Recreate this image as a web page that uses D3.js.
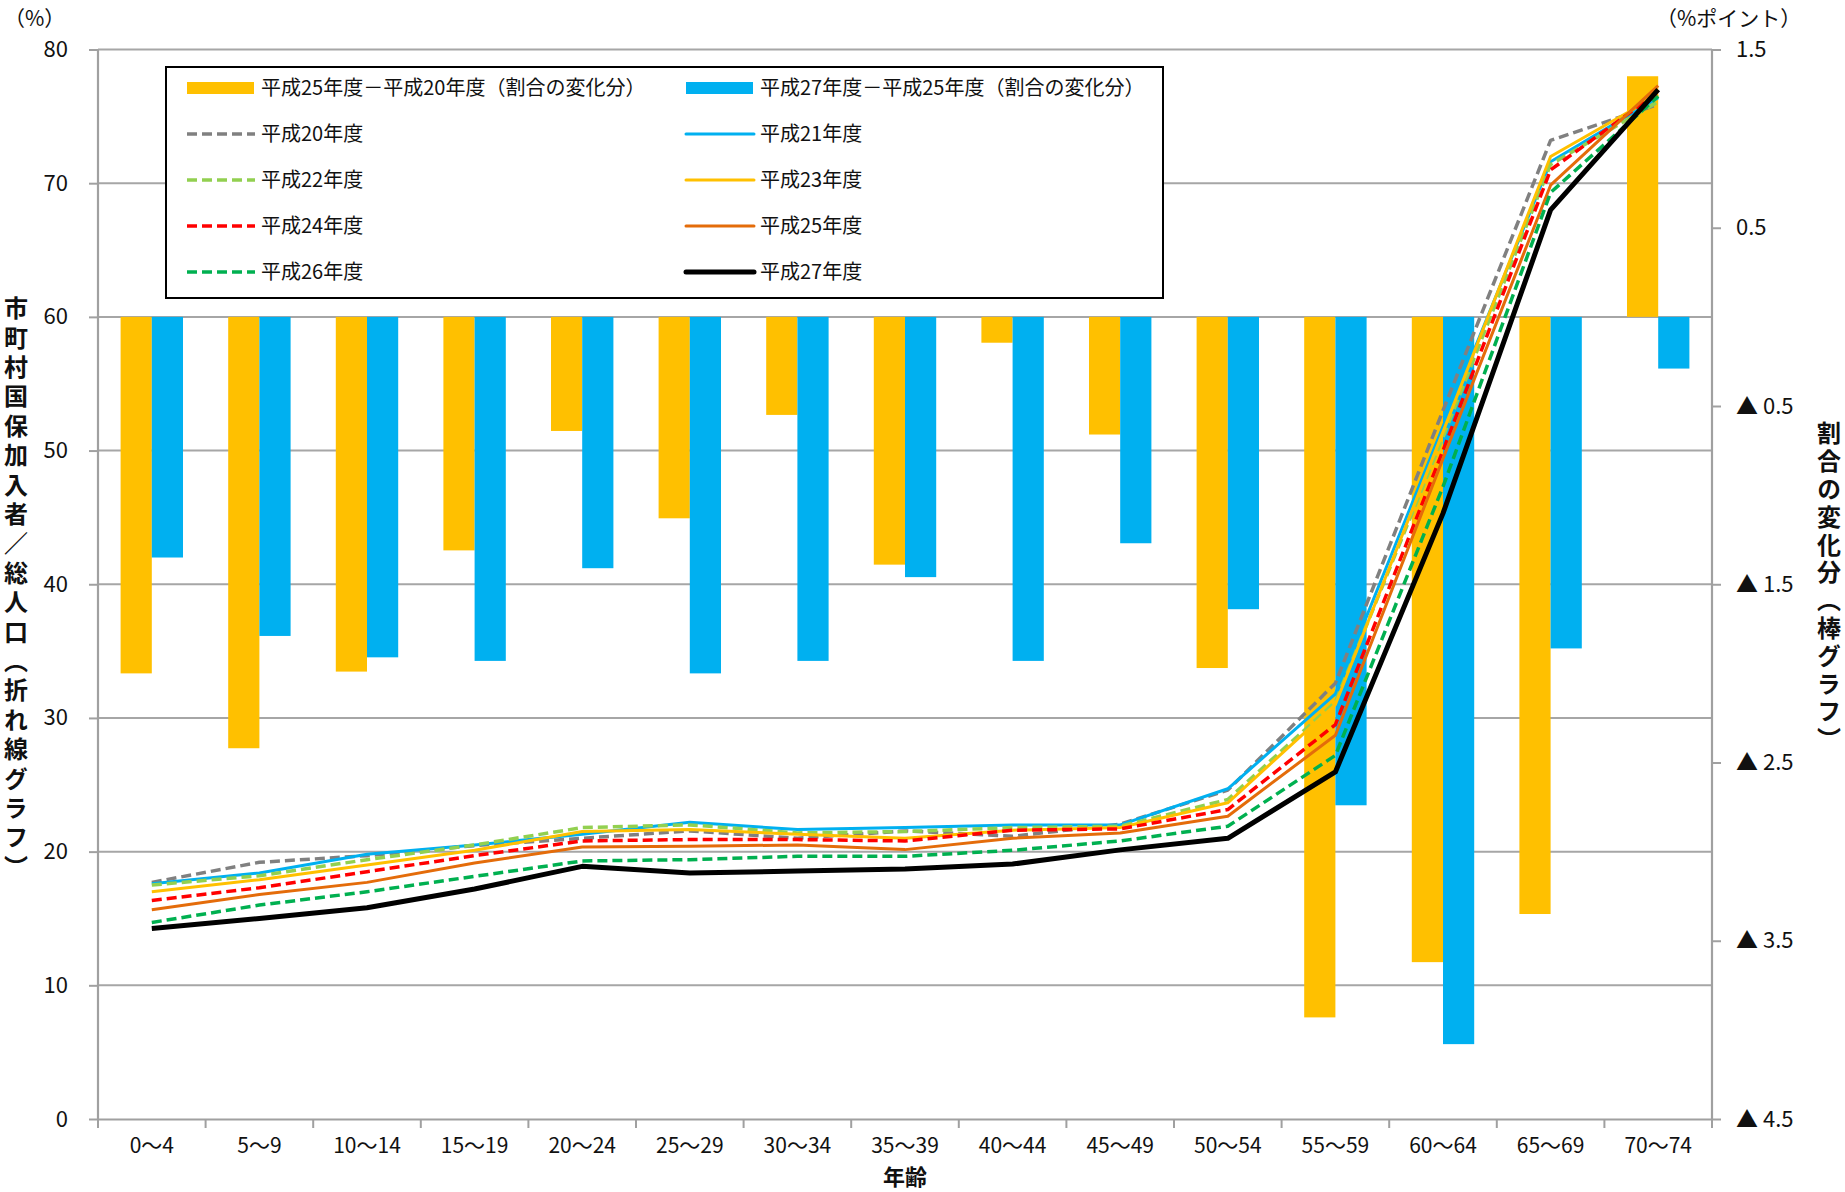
<!DOCTYPE html>
<html>
<head>
<meta charset="utf-8">
<script src="https://cdn.jsdelivr.net/npm/d3@7"></script>
<style>
  html, body { margin: 0; padding: 0; background: #fff; }
  svg text { font-family: "Noto Sans CJK JP", "Noto Sans", sans-serif; }
</style>
</head>
<body>
<svg id="chart" width="1845" height="1192"></svg>
<script>
// ---------------- DATA ----------------
const categories = ["0～4","5～9","10～14","15～19","20～24","25～29","30～34","35～39","40～44","45～49","50～54","55～59","60～64","65～69","70～74"];

// bar series (right axis, %ポイント)
const diffH25H20 = [-2.00,-2.42,-1.99,-1.31,-0.64,-1.13,-0.55,-1.39,-0.145,-0.66,-1.97,-3.93,-3.62,-3.35,1.35];
const diffH27H25 = [-1.35,-1.79,-1.91,-1.93,-1.41,-2.00,-1.93,-1.46,-1.93,-1.27,-1.64,-2.74,-4.08,-1.86,-0.29];

// line series (left axis, %)
const h20 = [17.7,19.2,19.7,20.45,21.0,21.55,21.0,21.55,21.15,22.05,24.6,32.6,53.0,73.2,75.9];
const h21 = [17.6,18.4,19.8,20.5,21.3,22.2,21.65,21.8,22.0,22.0,24.7,31.8,51.8,71.6,76.4];
const h22 = [17.5,18.2,19.4,20.5,21.8,22.0,21.4,21.5,21.8,21.9,23.9,31.2,51.0,71.4,76.1];
const h23 = [17.0,17.9,19.0,20.1,21.5,21.65,21.3,21.0,21.6,21.8,23.65,31.0,51.4,72.0,76.6];
const h24 = [16.35,17.3,18.5,19.7,20.8,20.9,20.9,20.8,21.6,21.7,23.15,29.5,50.0,71.0,76.8];
const h25 = [15.65,16.8,17.7,19.15,20.35,20.4,20.5,20.15,21.0,21.4,22.65,28.7,49.4,69.85,77.3];
const h26 = [14.7,16.0,17.0,18.15,19.3,19.4,19.65,19.65,20.1,20.8,21.9,27.2,47.3,69.3,76.5];
const h27 = [14.25,15.0,15.8,17.2,18.9,18.4,18.55,18.7,19.07,20.13,21.0,25.96,45.3,68.0,77.0];

const leftTicks = [0,10,20,30,40,50,60,70,80];
const rightTicks = [1.5,0.5,-0.5,-1.5,-2.5,-3.5,-4.5];

const barNames = ["平成25年度－平成20年度（割合の変化分）","平成27年度－平成25年度（割合の変化分）"];
const lineNames = ["平成20年度","平成21年度","平成22年度","平成23年度","平成24年度","平成25年度","平成26年度","平成27年度"];

// ---------------- STYLES ----------------
const barColors = ["#FFC000","#00B0F0"];
const lineStyles = [
  {color:"#808080", width:3.5, dash:"10,5"},
  {color:"#00B0F0", width:3,   dash:null},
  {color:"#92D050", width:3.5, dash:"10,5"},
  {color:"#FFC000", width:3,   dash:null},
  {color:"#FF0000", width:3.5, dash:"10,5"},
  {color:"#E46C0A", width:3,   dash:null},
  {color:"#00B050", width:3.5, dash:"10,5"},
  {color:"#000000", width:5,   dash:null}
];
const lineData = [h20,h21,h22,h23,h24,h25,h26,h27];
const barData = [diffH25H20, diffH27H25];

// ---------------- LAYOUT ----------------
const svg = d3.select("#chart");
const L = 98, R = 1712, T = 49.5, B = 1119;
const axisColor = "#A0A0A0", gridColor = "#A6A6A6", textColor = "#111";

const x = d3.scaleBand().domain(categories).range([L, R]).padding(0);
const yL = d3.scaleLinear().domain([0, 80]).range([B, T]);
const yR = d3.scaleLinear().domain([-4.5, 1.5]).range([B, T]);
const cx = c => x(c) + x.bandwidth() / 2;

// gridlines
svg.append("g").selectAll("line").data(leftTicks.filter(d => d > 0)).join("line")
  .attr("x1", L).attr("x2", R)
  .attr("y1", d => yL(d)).attr("y2", d => yL(d))
  .attr("stroke", gridColor).attr("stroke-width", 2);

// bars
const bw = x.bandwidth() * 0.29;
barData.forEach((arr, si) => {
  svg.append("g").selectAll("rect").data(arr).join("rect")
    .attr("x", (d, i) => cx(categories[i]) - bw + si * bw)
    .attr("width", bw)
    .attr("y", d => Math.min(yR(d), yR(0)))
    .attr("height", d => Math.abs(yR(d) - yR(0)))
    .attr("fill", barColors[si]);
});

// lines
const line = d3.line().x((d, i) => cx(categories[i])).y(d => yL(d));
lineData.forEach((arr, si) => {
  const st = lineStyles[si];
  svg.append("path").datum(arr)
    .attr("d", line)
    .attr("fill", "none")
    .attr("stroke", st.color)
    .attr("stroke-width", st.width)
    .attr("stroke-linejoin", "round")
    .attr("stroke-dasharray", st.dash);
});

// axes
const gL = svg.append("g").attr("transform", `translate(${L},0)`)
  .call(d3.axisLeft(yL).tickValues(leftTicks).tickSize(9).tickPadding(21).tickFormat(d3.format("d")));
const gR = svg.append("g").attr("transform", `translate(${R},0)`)
  .call(d3.axisRight(yR).tickValues(rightTicks).tickSize(9).tickPadding(15)
    .tickFormat(v => v >= 0 ? v.toFixed(1) : "▲ " + (-v).toFixed(1)));
const gB = svg.append("g").attr("transform", `translate(0,${B})`)
  .call(d3.axisBottom(x).tickSize(0).tickPadding(19));
// category boundary ticks on x axis
svg.append("g").selectAll("line").data(d3.range(categories.length + 1)).join("line")
  .attr("x1", i => L + i * x.bandwidth()).attr("x2", i => L + i * x.bandwidth())
  .attr("y1", B).attr("y2", B + 9)
  .attr("stroke", axisColor).attr("stroke-width", 2);

[gL, gR, gB].forEach(g => {
  g.select(".domain").attr("stroke", axisColor).attr("stroke-width", 2.2);
  g.selectAll(".tick line").attr("stroke", axisColor).attr("stroke-width", 2);
  g.selectAll(".tick text").attr("fill", textColor).attr("font-size", 22);
});
gB.selectAll(".tick text").attr("font-size", 21);
gL.select(".domain").attr("d", `M0,${T}V${B}`);
gR.select(".domain").attr("d", `M0,${T}V${B}`);
gR.selectAll(".tick text").attr("text-anchor", "start");

// unit labels
svg.append("text").attr("x", 4).attr("y", 26).attr("font-size", 21).attr("fill", textColor).text("（%）");
svg.append("text").attr("x", 1656).attr("y", 26).attr("font-size", 21).attr("fill", textColor).text("（%ポイント）");

// axis titles
svg.append("text").attr("x", 905).attr("y", 1185).attr("text-anchor", "middle")
  .attr("font-size", 22).attr("font-weight", "bold").attr("fill", textColor).text("年齢");

svg.append("text")
  .attr("x", 16).attr("y", 590)
  .attr("writing-mode", "vertical-rl").attr("text-anchor", "middle")
  .attr("font-size", 24).attr("font-weight", "bold").attr("letter-spacing", 5.4)
  .attr("fill", textColor).text("市町村国保加入者／総人口（折れ線グラフ）");

svg.append("text")
  .attr("x", 1829).attr("y", 588)
  .attr("writing-mode", "vertical-rl").attr("text-anchor", "middle")
  .attr("font-size", 24).attr("font-weight", "bold").attr("letter-spacing", 3.8)
  .attr("fill", textColor).text("割合の変化分（棒グラフ）");

// legend
const lg = svg.append("g");
lg.append("rect").attr("x", 166).attr("y", 67).attr("width", 997).attr("height", 231)
  .attr("fill", "#fff").attr("stroke", "#000").attr("stroke-width", 2);
const colX = [187, 686];
const rowY = [88, 134, 180, 226, 272];
barNames.forEach((n, i) => {
  lg.append("rect").attr("x", colX[i]).attr("y", rowY[0] - 6).attr("width", 67).attr("height", 12)
    .attr("fill", barColors[i]);
  lg.append("text").attr("x", colX[i] + 74).attr("y", rowY[0]).attr("dy", "0.35em")
    .attr("font-size", 20).attr("fill", textColor).text(n);
});
lineNames.forEach((n, i) => {
  const col = i % 2, row = 1 + Math.floor(i / 2);
  const st = lineStyles[i];
  lg.append("line").attr("x1", colX[col]).attr("x2", colX[col] + 68)
    .attr("y1", rowY[row]).attr("y2", rowY[row])
    .attr("stroke", st.color).attr("stroke-width", st.width).attr("stroke-dasharray", st.dash)
    .attr("stroke-linecap", st.dash ? "butt" : "round");
  lg.append("text").attr("x", colX[col] + 74).attr("y", rowY[row]).attr("dy", "0.35em")
    .attr("font-size", 20).attr("fill", textColor).text(n);
});
</script>
</body>
</html>
